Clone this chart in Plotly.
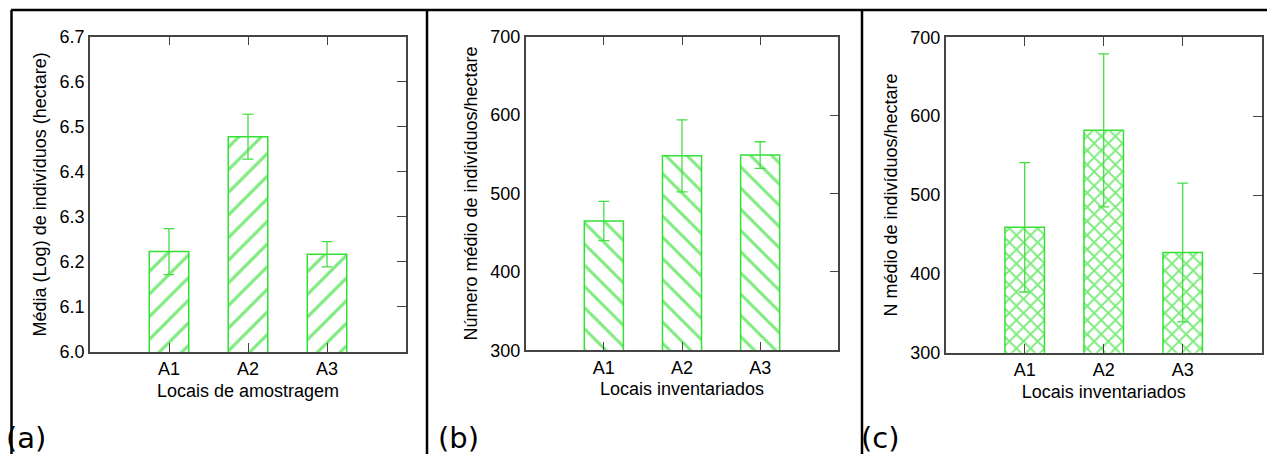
import plotly.graph_objects as go

# ---------------- data ----------------
categories = ["A1", "A2", "A3"]

a_values = [6.223, 6.478, 6.217]
a_errors = [0.051, 0.050, 0.028]
a_ticks = [6.0, 6.1, 6.2, 6.3, 6.4, 6.5, 6.6, 6.7]

b_values = [465, 548, 549]
b_errors = [25, 46, 17]
b_ticks = [300, 400, 500, 600, 700]

c_values = [459, 582, 427]
c_errors = [82, 97, 88]
c_ticks = [300, 400, 500, 600, 700]

x_titles = ["Locais de amostragem", "Locais inventariados", "Locais inventariados"]
y_titles = ["Média (Log) de indivíduos (hectare)",
            "Número médio de indivíduos/hectare",
            "N médio de indivíduos/hectare"]
panel_labels = ["(a)", "(b)", "(c)"]

# ---------------- layout helpers ----------------
W, H = 1267, 454
GREEN_LINE = "#33e033"
GREEN_PAT = "#00d800"
GREEN_ERR = "#44dd44"
AX_COL = "#444444"
FONT = "Liberation Sans, Arial, sans-serif"


def px_x(v):
    return v / W


def px_y(v):
    return 1 - v / H


panels = [
    dict(vals=a_values, errs=a_errors, ticks=a_ticks, rng=[6.0, 6.7], shape="/", psize=16, sol=0.2,
         xdom=[px_x(90), px_x(406)], ydom=[px_y(352), px_y(36.7)], fmt=".1f", label_x=4),
    dict(vals=b_values, errs=b_errors, ticks=b_ticks, rng=[300, 700], shape="\\", psize=15, sol=0.2,
         xdom=[px_x(525.7), px_x(838.3)], ydom=[px_y(350.3), px_y(36.7)], fmt="d", label_x=436),
    dict(vals=c_values, errs=c_errors, ticks=c_ticks, rng=[300, 700], shape="x", psize=10, sol=0.36,
         xdom=[px_x(945.7), px_x(1261.7)], ydom=[px_y(352.7), px_y(37.3)], fmt="d", label_x=859),
]

fig = go.Figure()
layout = dict(
    width=W, height=H,
    margin=dict(l=0, r=0, t=0, b=0, autoexpand=False),
    paper_bgcolor="white", plot_bgcolor="white",
    showlegend=False,
    font=dict(family=FONT, size=18, color="#000000"),
)

annotations = []
for i, p in enumerate(panels):
    n = i + 1
    xa = "x" if n == 1 else f"x{n}"
    ya = "y" if n == 1 else f"y{n}"
    xkey = "xaxis" if n == 1 else f"xaxis{n}"
    ykey = "yaxis" if n == 1 else f"yaxis{n}"
    ry = f"y{n + 3}"          # right-hand axis carrying inside ticks
    rykey = f"yaxis{n + 3}"

    fig.add_trace(go.Bar(
        x=categories, y=p["vals"], xaxis=xa, yaxis=ya,
        width=0.5,
        marker=dict(
            color="white",
            line=dict(color=GREEN_LINE, width=1.5),
            pattern=dict(shape=p["shape"], fgcolor=GREEN_PAT, bgcolor="white",
                         size=p["psize"], solidity=p["sol"]),
        ),
        error_y=dict(type="data", array=p["errs"], visible=True,
                     color=GREEN_ERR, thickness=1.3, width=5.5),
        hoverinfo="skip",
    ))
    # same values on the right-hand axis (draws nothing) so that axis is rendered
    fig.add_trace(go.Scatter(
        x=categories, y=p["vals"], xaxis=xa, yaxis=ry,
        mode="none", hoverinfo="skip", showlegend=False,
    ))

    layout[xkey] = dict(
        domain=p["xdom"], anchor=ya, type="category", range=[-1, 3],
        showline=True, linecolor=AX_COL, linewidth=1.5, mirror="ticks",
        ticks="inside", ticklen=9, tickcolor=AX_COL, tickwidth=1.2,
        showgrid=False, zeroline=False,
        tickfont=dict(size=18, family=FONT),
        title=dict(text=x_titles[i], standoff=6, font=dict(size=18, family=FONT)),
    )
    layout[ykey] = dict(
        domain=p["ydom"], anchor=xa, range=p["rng"],
        tickvals=p["ticks"], tickformat=p["fmt"],
        showline=True, linecolor=AX_COL, linewidth=1.5, mirror=False,
        ticks="", showgrid=False, zeroline=False,
        tickfont=dict(size=18, family=FONT),
        title=dict(text=y_titles[i], standoff=8, font=dict(size=18, family=FONT)),
    )
    layout[rykey] = dict(
        overlaying=ya, side="right", anchor=xa, range=p["rng"],
        tickvals=p["ticks"], showticklabels=False,
        showline=True, linecolor=AX_COL, linewidth=1.5,
        ticks="inside", ticklen=9, tickcolor=AX_COL, tickwidth=1.2,
        showgrid=False, zeroline=False,
    )

    annotations.append(dict(
        text=panel_labels[i], xref="paper", yref="paper",
        x=px_x(p["label_x"]), y=px_y(457), xanchor="left", yanchor="bottom",
        showarrow=False, font=dict(family="DejaVu Sans", size=29, color="#000000"),
    ))

layout["annotations"] = annotations

# frame lines of the figure table
line_style = dict(color="#000000", width=2.5)
shapes = [
    dict(type="line", xref="paper", yref="paper", x0=px_x(11), x1=1, y0=px_y(10), y1=px_y(10), line=line_style),
    dict(type="line", xref="paper", yref="paper", x0=px_x(11.5), x1=px_x(11.5), y0=px_y(10), y1=0, line=line_style),
    dict(type="line", xref="paper", yref="paper", x0=px_x(427), x1=px_x(427), y0=px_y(10), y1=0, line=line_style),
    dict(type="line", xref="paper", yref="paper", x0=px_x(862), x1=px_x(862), y0=px_y(10), y1=0, line=line_style),
]
layout["shapes"] = shapes

fig.update_layout(**layout)
fig.write_html(
    "out.html",
    config={"displayModeBar": False},
    post_script="document.body.style.margin='0';document.body.style.overflow='hidden';",
)
